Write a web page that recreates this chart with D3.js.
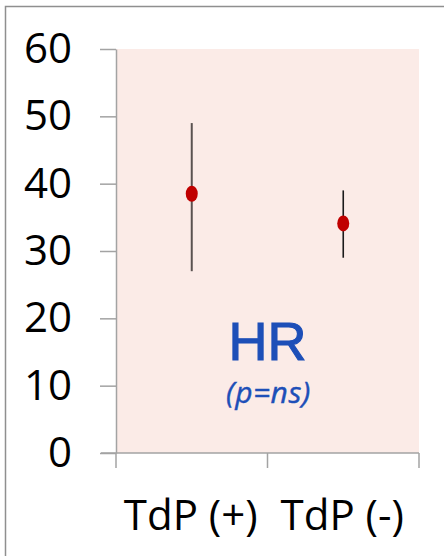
<!DOCTYPE html>
<html>
<head>
<meta charset="utf-8">
<script src="https://cdn.jsdelivr.net/npm/d3@7"></script>
<style>
  html, body { margin: 0; padding: 0; background: #fff; }
  svg { display: block; }
</style>
</head>
<body>
<div id="chart"></div>
<script>
// Heart rate by TdP group: mean with range
const categories = ["TdP (+)", "TdP (-)"];
const means = [38.5, 34.1];
const lows = [27, 29];
const highs = [49, 39];
const yTicks = [0, 10, 20, 30, 40, 50, 60];

const W = 444, H = 556;
const plot = { left: 116, right: 419, top: 49, bottom: 453 };

const svg = d3.select("#chart").append("svg")
  .attr("width", W).attr("height", H);

// outer frame (top and left edges)
svg.append("path")
  .attr("d", `M5.5,${H} L5.5,6.5 L${W},6.5`)
  .attr("fill", "none").attr("stroke", "#8f8f8f").attr("stroke-width", 1.5);

const y = d3.scaleLinear().domain([0, 60]).range([plot.bottom, plot.top]);
const x = d3.scaleBand().domain(categories).range([plot.left, plot.right]).padding(0);

// plot background
svg.append("rect")
  .attr("x", plot.left).attr("y", y(60))
  .attr("width", plot.right - plot.left).attr("height", y(0) - y(60))
  .attr("fill", "#fbebe7");

const axisColor = "#a3a3a3";
const font = "'Open Sans', 'Noto Sans', sans-serif";

// y axis
const yAxis = svg.append("g")
  .attr("transform", `translate(${plot.left},0)`)
  .call(d3.axisLeft(y).tickValues(yTicks).tickSize(16).tickPadding(28).tickSizeOuter(0));
yAxis.select(".domain").attr("stroke", axisColor).attr("stroke-width", 1.5);
yAxis.selectAll(".tick line").attr("stroke", axisColor).attr("stroke-width", 1.5);
yAxis.selectAll(".tick text")
  .attr("fill", "#000").style("font-family", font).style("font-size", "42px");

// x axis with ticks at category boundaries
const xAxis = svg.append("g")
  .attr("transform", `translate(0,${plot.bottom})`);
xAxis.append("line")
  .attr("x1", plot.left - 15).attr("x2", plot.right)
  .attr("stroke", axisColor).attr("stroke-width", 1.5);
const bounds = [plot.left, ...categories.map(c => x(c) + x.bandwidth())];
xAxis.selectAll("line.tick").data(bounds).join("line")
  .attr("class", "tick")
  .attr("x1", d => d).attr("x2", d => d)
  .attr("y1", 0).attr("y2", 15)
  .attr("stroke", axisColor).attr("stroke-width", 1.5);
xAxis.selectAll("text").data(categories).join("text")
  .attr("x", d => x(d) + x.bandwidth() / 2 - 1)
  .attr("y", 77)
  .attr("text-anchor", "middle")
  .style("font-family", font).style("font-size", "42px")
  .attr("fill", "#000")
  .text(d => d);

// range lines
const cx = i => x(categories[i]) + x.bandwidth() / 2;
svg.selectAll("line.err").data(means).join("line")
  .attr("class", "err")
  .attr("x1", (d, i) => cx(i)).attr("x2", (d, i) => cx(i))
  .attr("y1", (d, i) => y(highs[i])).attr("y2", (d, i) => y(lows[i]))
  .attr("stroke", (d, i) => i === 0 ? "#5a5250" : "#1a1a1a")
  .attr("stroke-width", (d, i) => i === 0 ? 2 : 1.6);

// mean markers
svg.selectAll("ellipse.mean").data(means).join("ellipse")
  .attr("class", "mean")
  .attr("cx", (d, i) => cx(i)).attr("cy", d => y(d))
  .attr("rx", 6).attr("ry", 8)
  .attr("fill", "#c00000");

// panel title
const midX = (plot.left + plot.right) / 2;
svg.append("text")
  .attr("x", midX).attr("y", 360)
  .attr("text-anchor", "middle")
  .style("font-family", "'Liberation Sans', Arial, sans-serif")
  .style("font-size", "54px")
  .attr("fill", "#1d4fb8")
  .attr("stroke", "#1d4fb8").attr("stroke-width", 1.1)
  .text("HR");
svg.append("text")
  .attr("x", midX + 1).attr("y", 403)
  .attr("text-anchor", "middle")
  .style("font-family", font)
  .style("font-size", "30px").style("font-style", "italic")
  .style("letter-spacing", "0.5px")
  .attr("fill", "#1d4fb8")
  .attr("stroke", "#1d4fb8").attr("stroke-width", 0.4)
  .text("(p=ns)");
</script>
</body>
</html>
